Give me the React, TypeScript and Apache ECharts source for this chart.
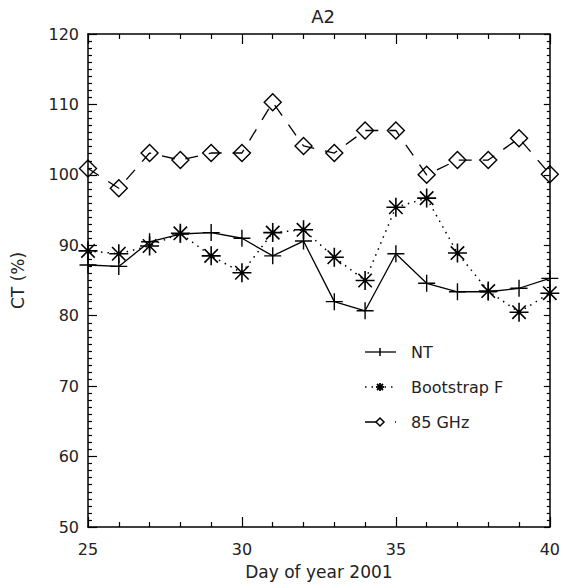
import React, { useEffect, useRef } from "react";
import * as echarts from "echarts";

const days = [25, 26, 27, 28, 29, 30, 31, 32, 33, 34, 35, 36, 37, 38, 39, 40];
const ntValues = [87.2, 87.0, 90.5, 91.6, 91.8, 91.0, 88.5, 90.6, 82.0, 80.7, 88.8, 84.6, 83.4, 83.4, 83.9, 85.3];
const bootstrapValues = [89.2, 88.8, 89.9, 91.7, 88.5, 86.1, 91.8, 92.2, 88.3, 85.0, 95.4, 96.7, 88.9, 83.5, 80.5, 83.2];
const ghz85Values = [100.9, 98.1, 103.1, 102.1, 103.1, 103.1, 110.3, 104.1, 103.1, 106.3, 106.3, 100.0, 102.1, 102.1, 105.2, 100.1];
const seriesNames = ["NT", "Bootstrap F", "85 GHz"];
const chartTitle = "A2";
const xName = "Day of year 2001";
const yName = "CT (%)";

const FONT = "DejaVu Sans";
const TXT = "#222";

const plusPath = "path://M0,-10L0,10M-10,0L10,0";
const starPath = "path://M0,-10L0,10M-10,0L10,0M-7.07,-7.07L7.07,7.07M-7.07,7.07L7.07,-7.07";
const diamondPath = "path://M0,-10L10,0L0,10L-10,0Z";

export default function App() {
  const ref = useRef<HTMLDivElement>(null);
  useEffect(() => {
    if (!ref.current) return;
    const chart = echarts.init(ref.current, null, { renderer: "svg" });
    const pair = (vals: number[]) => days.map((d, i) => [d, vals[i]]);
    const sym = { color: "rgba(0,0,0,0)", borderColor: "#000", borderWidth: 1.4 };
    const axisCommon = {
      type: "value" as const,
      axisLine: { show: true, lineStyle: { color: "#000", width: 1.5 } },
      splitLine: { show: false },
    };
    const lx = 365, lx2 = 396, lmx = 380, tx = 411;
    const ly = [352, 387, 422];
    const legend: any[] = [
      { type: "line", shape: { x1: lx, y1: ly[0], x2: lx2, y2: ly[0] }, style: { stroke: "#000", lineWidth: 1.3 } },
      { type: "line", shape: { x1: lmx, y1: ly[0] - 4, x2: lmx, y2: ly[0] + 4 }, style: { stroke: "#000", lineWidth: 1.5 } },
      { type: "line", shape: { x1: lx, y1: ly[1], x2: lx2, y2: ly[1] }, style: { stroke: "#000", lineWidth: 1.5, lineDash: [1.5, 5] } },
      { type: "line", shape: { x1: lmx - 4, y1: ly[1], x2: lmx + 4, y2: ly[1] }, style: { stroke: "#000", lineWidth: 1.8 } },
      { type: "line", shape: { x1: lmx, y1: ly[1] - 4, x2: lmx, y2: ly[1] + 4 }, style: { stroke: "#000", lineWidth: 1.8 } },
      { type: "line", shape: { x1: lmx - 3, y1: ly[1] - 3, x2: lmx + 3, y2: ly[1] + 3 }, style: { stroke: "#000", lineWidth: 1.8 } },
      { type: "line", shape: { x1: lmx - 3, y1: ly[1] + 3, x2: lmx + 3, y2: ly[1] - 3 }, style: { stroke: "#000", lineWidth: 1.8 } },
      { type: "line", shape: { x1: lx, y1: ly[2], x2: lx2, y2: ly[2] }, style: { stroke: "#000", lineWidth: 1.3, lineDash: [13, 17] } },
      { type: "polygon", shape: { points: [[lmx, ly[2] - 4], [lmx + 4, ly[2]], [lmx, ly[2] + 4], [lmx - 4, ly[2]]] }, style: { fill: "#fff", stroke: "#000", lineWidth: 1.5 } },
    ];
    seriesNames.forEach((n, i) => {
      legend.push({ type: "text", x: tx, y: ly[i], style: { text: n, fontFamily: FONT, fontSize: 16, fill: TXT, verticalAlign: "middle", align: "left" } });
    });
    chart.setOption({
      animation: false,
      backgroundColor: "#fff",
      title: {
        text: chartTitle,
        left: 318,
        top: 2,
        textAlign: "center",
        textStyle: { fontFamily: FONT, fontSize: 18, fontWeight: "normal", color: TXT },
      },
      grid: { left: 88, right: 13, top: 34, bottom: 61, containLabel: false },
      xAxis: [
        {
          ...axisCommon,
          min: 25,
          max: 40,
          interval: 5,
          position: "bottom",
          name: xName,
          nameLocation: "middle",
          nameGap: 36,
          nameTextStyle: { fontFamily: FONT, fontSize: 17, color: TXT },
          axisTick: { show: true, inside: true, length: 10, lineStyle: { color: "#000", width: 1.2 } },
          minorTick: { show: true, splitNumber: 5, length: 5, lineStyle: { color: "#000", width: 1.2 } },
          axisLabel: { fontFamily: FONT, fontSize: 16, color: TXT, margin: 14 },
        },
        {
          ...axisCommon,
          min: 25,
          max: 40,
          interval: 5,
          position: "top",
          axisTick: { show: true, inside: true, length: 10, lineStyle: { color: "#000", width: 1.2 } },
          minorTick: { show: true, splitNumber: 5, length: 5, lineStyle: { color: "#000", width: 1.2 } },
          axisLabel: { show: false },
        },
      ],
      yAxis: [
        {
          ...axisCommon,
          min: 50,
          max: 120,
          interval: 10,
          position: "left",
          name: yName,
          nameLocation: "middle",
          nameGap: 62,
          nameTextStyle: { fontFamily: FONT, fontSize: 17, color: TXT },
          axisTick: { show: true, inside: true, length: 9, lineStyle: { color: "#000", width: 1.2 } },
          minorTick: { show: true, splitNumber: 10, length: 4, lineStyle: { color: "#000", width: 1.2 } },
          axisLabel: { fontFamily: FONT, fontSize: 16, color: TXT, margin: 9 },
        },
        {
          ...axisCommon,
          min: 50,
          max: 120,
          interval: 10,
          position: "right",
          axisTick: { show: true, inside: true, length: 6, lineStyle: { color: "#000", width: 1.2 } },
          minorTick: { show: true, splitNumber: 10, length: 3, lineStyle: { color: "#000", width: 1.2 } },
          axisLabel: { show: false },
        },
      ],
      graphic: legend,
      series: [
        {
          name: seriesNames[0],
          type: "line",
          data: pair(ntValues),
          symbol: plusPath,
          symbolSize: 17,
          itemStyle: sym,
          lineStyle: { color: "#000", width: 1.3, type: "solid" },
          clip: true,
        },
        {
          name: seriesNames[1],
          type: "line",
          data: pair(bootstrapValues),
          symbol: starPath,
          symbolSize: 19,
          itemStyle: { ...sym, borderWidth: 1.6 },
          lineStyle: { color: "#000", width: 1.5, type: [1.5, 5] },
          clip: true,
        },
        {
          name: seriesNames[2],
          type: "line",
          data: pair(ghz85Values),
          symbol: diamondPath,
          symbolSize: 17,
          itemStyle: sym,
          lineStyle: { color: "#000", width: 1.3, type: [13, 11] },
          clip: true,
        },
      ],
    });
    return () => chart.dispose();
  }, []);
  return <div ref={ref} style={{ position: "absolute", left: 0, top: 0, width: 563, height: 588 }} />;
}
